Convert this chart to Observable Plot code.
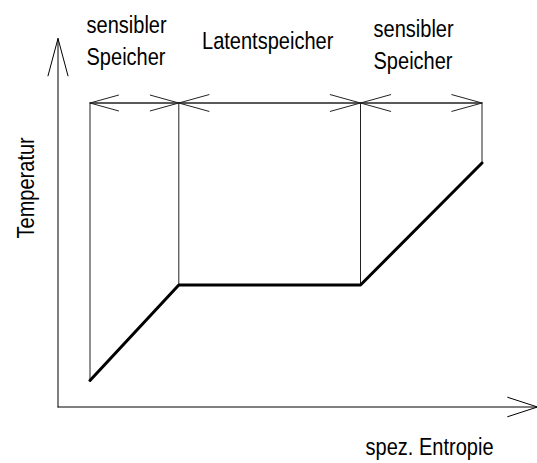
<!DOCTYPE html>
<html>
<head>
<meta charset="utf-8">
<script src="https://cdn.jsdelivr.net/npm/d3@7"></script>
<script src="https://cdn.jsdelivr.net/npm/@observablehq/plot@0.6"></script>
<style>
  html, body { margin: 0; padding: 0; background: #fff; }
  #chart { width: 537px; height: 463px; }
</style>
</head>
<body>
<div id="chart"></div>
<script>
// spez. Entropie at the phase boundaries (arbitrary units) and the temperature curve
const curveS = [32, 120.8, 302.5, 424];
const curveT = [26.5, 122, 122, 244];
const bracketT = 304;

// region labels
const regionLabels = ["sensibler\nSpeicher", "Latentspeicher", "sensibler\nSpeicher"];
const labelS = [28.5, 144, 315.5];
const labelT = [342, 358, 338];

// axis labels
const xLabel = "spez. Entropie";
const yLabel = "Temperatur";
const axisEndS = 479.5;
const axisEndT = 368.5;

const FONT = "'Liberation Sans Narrow', 'Arial Narrow', 'Liberation Sans', Arial, sans-serif";
const NARROW = 0.835; // horizontal condensing to mimic a narrow typeface

const curve = curveS.map((s, i) => ({s, T: curveT[i]}));
const verticals = curveS.map((s, i) => ({s, T1: curveT[i], T2: bracketT}));
const spans = [];
for (let i = 0; i < curveS.length - 1; i++) {
  spans.push({a: curveS[i], b: curveS[i + 1]});
  spans.push({a: curveS[i + 1], b: curveS[i]});
}
const labels = regionLabels.map((t, i) => ({t, s: labelS[i], T: labelT[i]}));

const plot = Plot.plot({
  width: 537,
  height: 463,
  margin: 0,
  style: {background: "#fff"},
  x: {domain: [0, 480], range: [57.5, 537.5], axis: null},
  y: {domain: [0, 370], range: [406.5, 36.5], axis: null},
  marks: [
    // axes with open arrowheads
    Plot.arrow([{x1: 0, y1: 0, x2: 0, y2: axisEndT}], {
      x1: "x1", y1: "y1", x2: "x2", y2: "y2",
      stroke: "#000", strokeWidth: 1, headAngle: 30, headLength: 58
    }),
    Plot.arrow([{x1: 0, y1: 0, x2: axisEndS, y2: 0}], {
      x1: "x1", y1: "y1", x2: "x2", y2: "y2",
      stroke: "#000", strokeWidth: 1, headAngle: 36, headLength: 47
    }),
    // vertical boundary lines
    Plot.ruleX(verticals, {x: "s", y1: "T1", y2: "T2", stroke: "#222", strokeWidth: 1}),
    // double-headed range arrows
    Plot.arrow(spans, {
      x1: "a", x2: "b", y1: () => bracketT, y2: () => bracketT,
      stroke: "#222", strokeWidth: 1, headAngle: 31, headLength: 47
    }),
    // heating curve
    Plot.line(curve, {x: "s", y: "T", stroke: "#000", strokeWidth: 3, strokeLinejoin: "miter"}),
    // labels
    Plot.text(labels, {
      x: "s", y: "T", text: "t", textAnchor: "start", lineAnchor: "bottom",
      lineHeight: 1.35, fontSize: 24, fontFamily: FONT, fill: "#000"
    }),
    Plot.text([xLabel], {
      x: () => 307.5, y: () => -47.5, text: d => d, textAnchor: "start", lineAnchor: "bottom",
      fontSize: 24, fontFamily: FONT, fill: "#000"
    }),
    Plot.text([yLabel], {
      x: () => -24.5, y: () => 168.5, text: d => d, textAnchor: "start", lineAnchor: "bottom",
      rotate: -90, fontSize: 24, fontFamily: FONT, fill: "#000"
    })
  ]
});
document.getElementById("chart").appendChild(plot);

// condense label glyphs along their writing direction (the narrow face is not installed)
d3.select(plot).selectAll("text").each(function () {
  const t = this.getAttribute("transform") || "";
  this.setAttribute("transform", (t + ` scale(${NARROW},1)`).trim());
});
</script>
</body>
</html>
